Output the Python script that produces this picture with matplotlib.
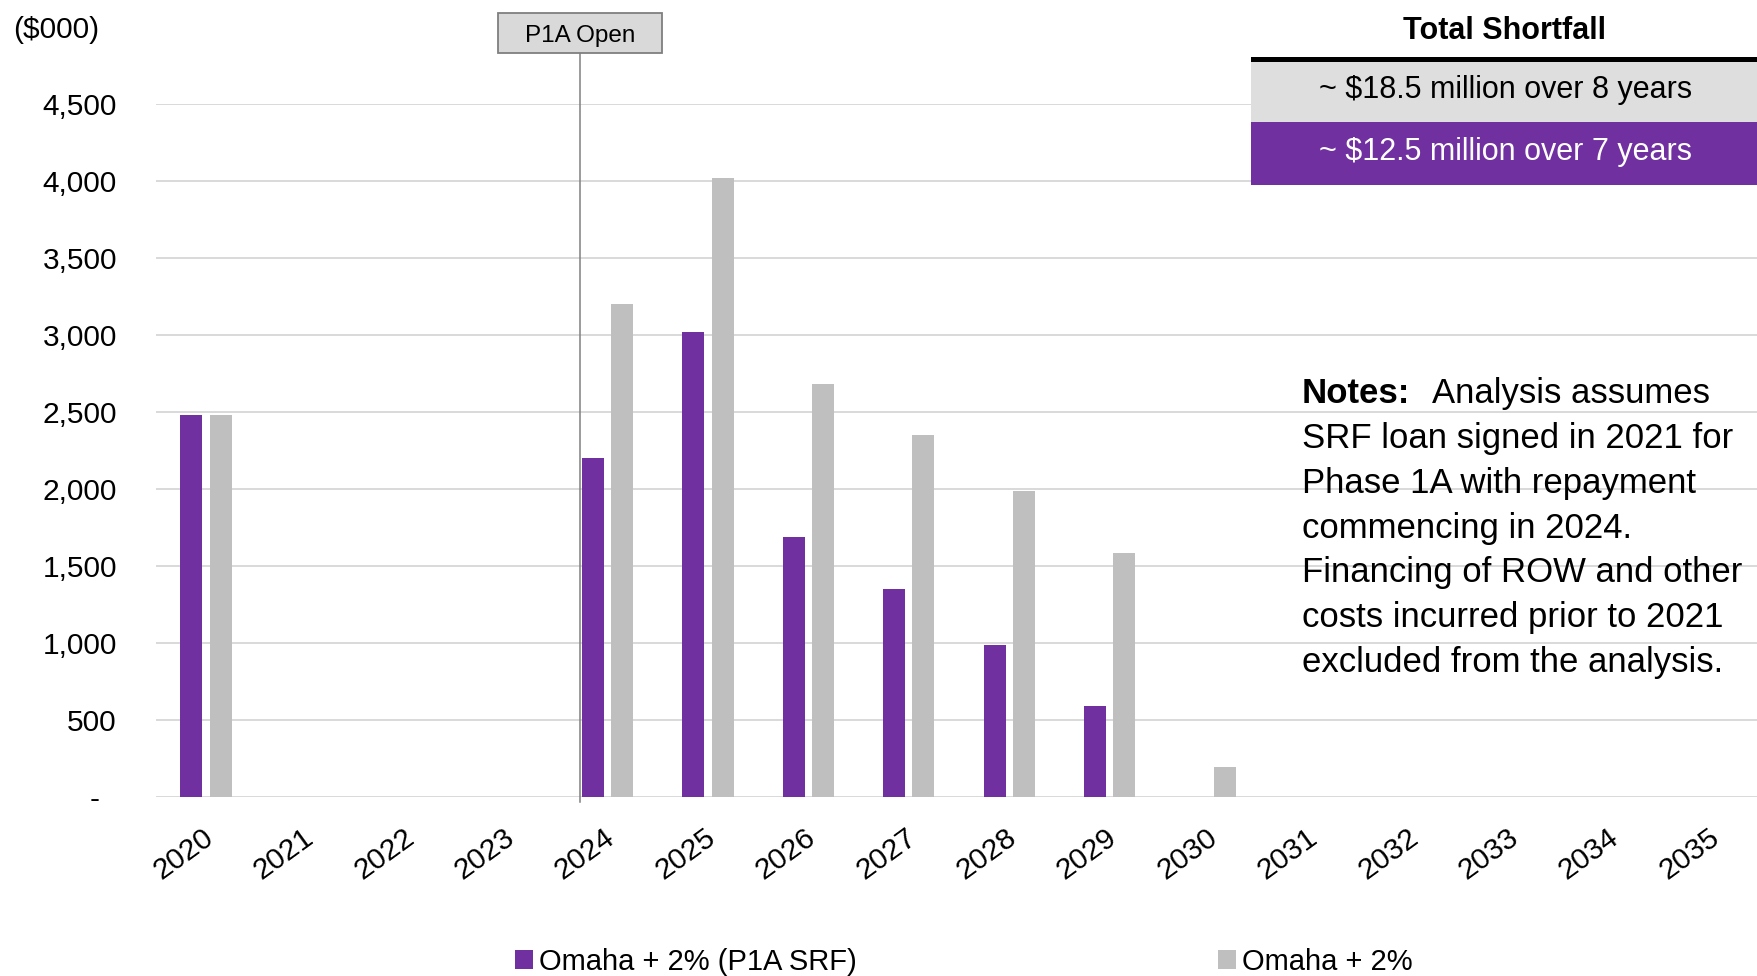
import matplotlib
matplotlib.use("Agg")
import matplotlib.pyplot as plt
from matplotlib.patches import Rectangle
from matplotlib import transforms
import numpy as np

plt.rcParams['font.family'] = ['Liberation Sans', 'DejaVu Sans']

# ---- data ($000) ----
years = ["2020", "2021", "2022", "2023", "2024", "2025", "2026", "2027",
         "2028", "2029", "2030", "2031", "2032", "2033", "2034", "2035"]
srf_shortfall = [2480, 0, 0, 0, 2200, 3020, 1690, 1350, 990, 590, 0, 0, 0, 0, 0, 0]
base_shortfall = [2480, 0, 0, 0, 3200, 4020, 2680, 2350, 1990, 1585, 195, 0, 0, 0, 0, 0]
series_labels = ["Omaha + 2% (P1A SRF)", "Omaha + 2%"]
y_ticks = [0, 500, 1000, 1500, 2000, 2500, 3000, 3500, 4000, 4500]
open_year_index = 4
summary_rows = ["~ $18.5 million over 8 years", "~ $12.5 million over 7 years"]
notes_lead = "Notes:"
notes_lines = ["Analysis assumes",
               "SRF loan signed in 2021 for",
               "Phase 1A with repayment",
               "commencing in 2024.",
               "Financing of ROW and other",
               "costs incurred prior to 2021",
               "excluded from the analysis."]

PURPLE = "#7030A0"
GRAY = "#BFBFBF"
GRID = "#D9D9D9"

W, H = 1758, 976
fig = plt.figure(figsize=(W / 100, H / 100), dpi=100)


def fx(px):
    return px / W


def fy(py):
    return 1 - py / H


ax = fig.add_axes([fx(155.8), fy(797), 1606.4 / W, (797 - 104) / H])

x = np.arange(len(years))
bw = 0.22
off = 0.145
b1 = ax.bar(x - off, srf_shortfall, width=bw, color=PURPLE, zorder=3)
b2 = ax.bar(x + off, base_shortfall, width=bw, color=GRAY, zorder=3)

ax.set_xlim(-0.5, len(years) - 0.5)
ax.set_ylim(0, 4500)
ax.set_yticks(y_ticks)
ax.set_yticklabels(["-  " if v == 0 else f"{v:,}" for v in y_ticks])
ax.yaxis.grid(True, color=GRID, linewidth=1.4, zorder=0)
ax.set_axisbelow(True)
for s in ax.spines.values():
    s.set_visible(False)
ax.tick_params(axis="y", length=0, pad=28, labelsize=21.5)
ax.tick_params(axis="x", length=0, pad=19, labelsize=21.5)
ax.set_xticks(x)
ax.set_xticklabels(years, rotation=36, ha="right", va="top", rotation_mode="anchor")
shift = transforms.ScaledTranslation(-4 / 100, 0, fig.dpi_scale_trans)
for lbl in ax.get_xticklabels():
    lbl.set_transform(lbl.get_transform() + shift)

# units label
fig.text(fx(13), fy(30), "($000)", fontsize=21.5, ha="left", va="center")

# P1A Open marker
blend = transforms.blended_transform_factory(ax.transData, fig.transFigure)
xm = open_year_index - 0.27
ax.plot([xm, xm], [fy(802), fy(53)], transform=blend, color="#808080",
        linewidth=1.1, clip_on=False, zorder=5)
box_w = 164 / 100.4
ax.add_patch(Rectangle((xm - box_w / 2, fy(53)), box_w, fy(13) - fy(53),
                       transform=blend, facecolor="#D9D9D9", edgecolor="#7F7F7F",
                       linewidth=1.3, clip_on=False, zorder=6))
ax.text(xm, fy(42), "P1A Open", transform=blend, fontsize=17.5, ha="center",
        va="baseline", zorder=7, clip_on=False)

# Total shortfall summary table
fig.text(fx(1505), fy(39), "Total Shortfall", fontsize=22, fontweight="bold",
         ha="center", va="baseline")
fig.add_artist(Rectangle((fx(1251), fy(62)), fx(1758) - fx(1251), fy(56.5) - fy(62),
                         transform=fig.transFigure, facecolor="black", edgecolor="none", zorder=2))
fig.add_artist(Rectangle((fx(1251), fy(122)), fx(1758) - fx(1251), fy(62) - fy(122),
                         transform=fig.transFigure, facecolor="#DEDEDE", edgecolor="none", zorder=2))
fig.add_artist(Rectangle((fx(1251), fy(185)), fx(1758) - fx(1251), fy(122) - fy(185),
                         transform=fig.transFigure, facecolor=PURPLE, edgecolor="none", zorder=2))
fig.text(fx(1506), fy(98), summary_rows[0], fontsize=22, ha="center", va="baseline",
         color="black", zorder=3)
fig.text(fx(1506), fy(160), summary_rows[1], fontsize=22, ha="center", va="baseline",
         color="white", zorder=3)

# Notes block
renderer = fig.canvas.get_renderer()
base_y = 403
step = 44.85
lead = fig.text(fx(1302), fy(base_y), notes_lead, fontsize=25, fontweight="bold",
                ha="left", va="baseline")
bb = lead.get_window_extent(renderer)
fig.text(fx(bb.x1 + 22), fy(base_y), notes_lines[0], fontsize=25, ha="left", va="baseline")
for i, line in enumerate(notes_lines[1:], start=1):
    fig.text(fx(1302), fy(base_y + i * step), line, fontsize=25, ha="left", va="baseline")

# Legend
fig.legend([b1, b2], series_labels, loc="center",
           bbox_to_anchor=(fx(964), fy(962)), ncol=2, frameon=False, fontsize=21,
           handlelength=0.61, handleheight=0.61, handletextpad=0.2,
           columnspacing=12.4, borderpad=0, borderaxespad=0)

fig.savefig("out.png", dpi=100)
